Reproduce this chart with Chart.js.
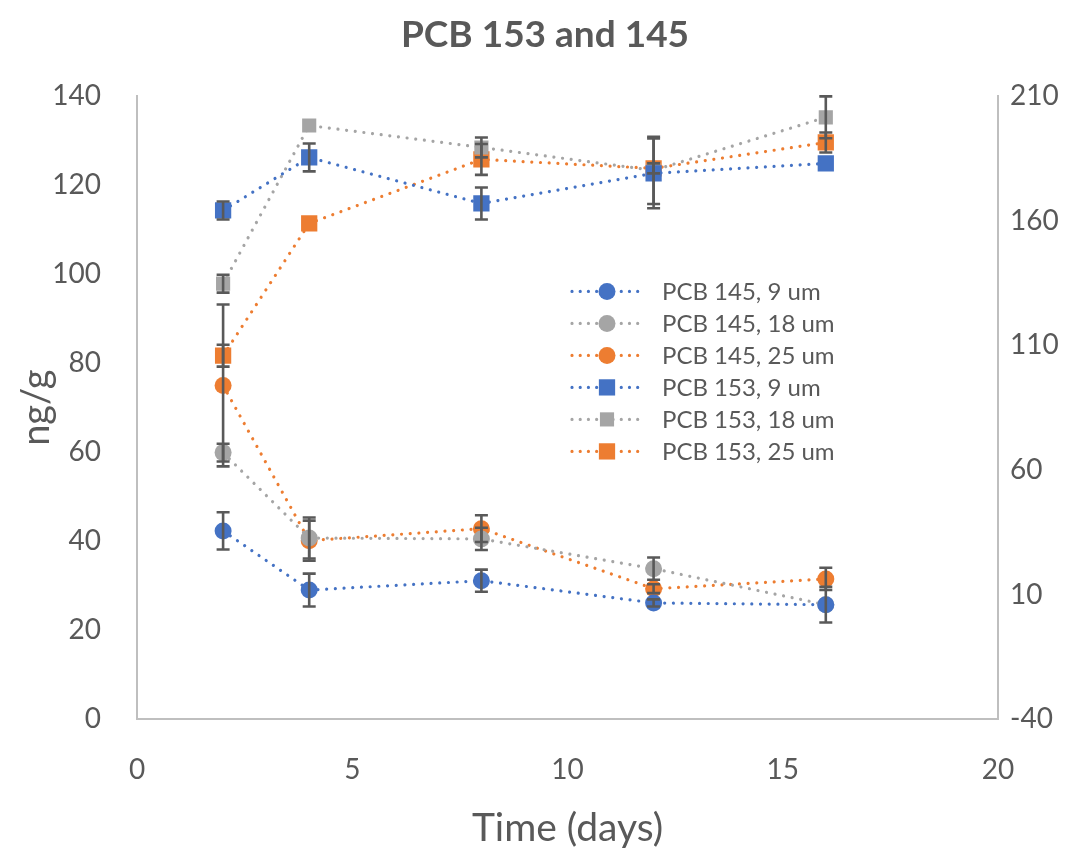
<!DOCTYPE html>
<html>
<head>
<meta charset="utf-8">
<script src="https://cdn.jsdelivr.net/npm/chart.js@4/dist/chart.umd.min.js"></script>
<style>
  html, body { margin: 0; padding: 0; background: #fff; }
  #wrap { width: 1090px; height: 848px; }
</style>
</head>
<body>
<div id="wrap"><canvas id="diagram" width="1090" height="848"></canvas></div>
<script>
// sampling days
const days = [2, 4, 8, 12, 16];

// PCB 145 (ng/g, left axis)
const pcb145_9 = [42.3, 29.0, 31.1, 26.1, 25.7];
const pcb145_18 = [59.9, 40.7, 40.5, 33.8, 25.7];
const pcb145_25 = [75.0, 40.1, 42.8, 29.3, 31.5];
const err145_9 = [4.2, 3.7, 2.5, 0.8, 0];
const err145_18 = [2.0, 4.6, 2.5, 2.5, 4.0];
const err145_25 = [18.2, 4.5, 3.0, 1.0, 2.5];

// PCB 153 (right axis)
const pcb153_9 = [164.2, 185.5, 167.0, 179.1, 183.1];
const pcb153_18 = [134.8, 198.3, 189.5, 180.3, 201.6];
const pcb153_25 = [105.9, 159.0, 184.7, 181.1, 191.5];
const err153_9 = [3.6, 5.6, 6.4, 14.0, 0];
const err153_18 = [3.6, 0, 4.0, 13.5, 8.4];
const err153_25 = [4.4, 0, 6.2, 2.0, 4.0];

const xTicks = [0, 5, 10, 15, 20];
const leftTicks = [0, 20, 40, 60, 80, 100, 120, 140];
const rightTicks = [-40, 10, 60, 110, 160, 210];

const BLUE = '#4472C4';
const GRAY = '#A5A5A5';
const ORANGE = '#ED7D31';
const TEXT = '#595959';
const AXIS = '#BFBFBF';
const FONT = 'Lato';

function makeSeries(label, values, errors, color, marker, axis) {
    return {
        label: label,
        data: days.map((d, i) => ({ x: d, y: values[i] })),
        errors: errors,
        yAxisID: axis,
        borderColor: color,
        backgroundColor: color,
        pointBackgroundColor: color,
        pointBorderColor: color,
        pointStyle: marker,
        pointRadius: marker === 'rect' ? 11.5 : 8.5,
        pointBorderWidth: 0,
        borderWidth: 3.2,
        borderDash: [0.01, 8.7],
        borderCapStyle: 'round',
        showLine: true,
        fill: false,
        tension: 0
    };
}

const datasets = [
    makeSeries('PCB 145, 9 um', pcb145_9, err145_9, BLUE, 'circle', 'y'),
    makeSeries('PCB 145, 18 um', pcb145_18, err145_18, GRAY, 'circle', 'y'),
    makeSeries('PCB 145, 25 um', pcb145_25, err145_25, ORANGE, 'circle', 'y'),
    makeSeries('PCB 153, 9 um', pcb153_9, err153_9, BLUE, 'rect', 'y2'),
    makeSeries('PCB 153, 18 um', pcb153_18, err153_18, GRAY, 'rect', 'y2'),
    makeSeries('PCB 153, 25 um', pcb153_25, err153_25, ORANGE, 'rect', 'y2')
];
// grey squares are a bit smaller
datasets[4].pointRadius = 10;

/**
* Ritar felstaplar (± värde) för varje punkt
*/
const errorBars = {
    id: 'errorBars',
    afterDatasetsDraw(chart) {
        const ctx = chart.ctx;
        const xs = chart.scales.x;
        ctx.save();
        ctx.strokeStyle = '#595959';
        ctx.lineWidth = 2.6;
        chart.data.datasets.forEach(ds => {
            const ys = chart.scales[ds.yAxisID];
            ds.data.forEach((p, i) => {
                const e = ds.errors[i];
                if (!e) return;
                const px = xs.getPixelForValue(p.x);
                const top = ys.getPixelForValue(p.y + e);
                const bot = ys.getPixelForValue(p.y - e);
                ctx.beginPath();
                ctx.moveTo(px, top);
                ctx.lineTo(px, bot);
                ctx.moveTo(px - 6.5, top);
                ctx.lineTo(px + 6.5, top);
                ctx.moveTo(px - 6.5, bot);
                ctx.lineTo(px + 6.5, bot);
                ctx.stroke();
            });
        });
        ctx.restore();
    }
};

/**
* Förklaring inne i diagrammet: prickad linje med markör och text
*/
const innerLegend = {
    id: 'innerLegend',
    afterDraw(chart) {
        const ctx = chart.ctx;
        const area = chart.chartArea;
        const x0 = area.left + 435;
        const y0 = area.top + 195;
        const rowH = 32;
        ctx.save();
        chart.data.datasets.forEach((ds, i) => {
            const y = y0 + i * rowH;
            ctx.strokeStyle = ds.borderColor;
            ctx.lineWidth = 3.2;
            ctx.lineCap = 'round';
            ctx.setLineDash([0.01, 8.2]);
            ctx.beginPath();
            ctx.moveTo(x0, y);
            ctx.lineTo(x0 + 73, y);
            ctx.stroke();
            ctx.setLineDash([]);
            ctx.fillStyle = ds.borderColor;
            if (ds.pointStyle === 'circle') {
                ctx.beginPath();
                ctx.arc(x0 + 35, y, 8.5, 0, Math.PI * 2);
                ctx.fill();
            } else {
                const s = ds.pointRadius * Math.SQRT1_2;
                ctx.fillRect(x0 + 35 - s, y - s, 2 * s, 2 * s);
            }
            ctx.fillStyle = TEXT;
            ctx.font = '24px ' + FONT;
            ctx.textBaseline = 'middle';
            ctx.fillText(ds.label, x0 + 90, y + 1);
        });
        ctx.restore();
    }
};

function init() {
    const ctx = document.getElementById('diagram').getContext('2d');
    new Chart(ctx, {
        type: 'scatter',
        data: { datasets: datasets },
        plugins: [errorBars, innerLegend],
        options: {
            responsive: false,
            animation: false,
            layout: { padding: { left: 0, right: 0, top: 0, bottom: 0 } },
            plugins: {
                legend: { display: false },
                tooltip: { enabled: false },
                title: {
                    display: true,
                    text: 'PCB 153 and 145',
                    color: TEXT,
                    font: { family: FONT, size: 37, weight: 'bold' },
                    padding: { top: 13, bottom: 39 }
                }
            },
            scales: {
                x: {
                    type: 'linear',
                    min: 0,
                    max: 20,
                    afterBuildTicks: s => { s.ticks = xTicks.map(v => ({ value: v })); },
                    afterFit: s => { s.height = 129; },
                    grid: { display: false, drawTicks: false },
                    border: { display: true, color: AXIS, width: 2 },
                    ticks: { color: TEXT, font: { family: FONT, size: 28 }, padding: 34 },
                    title: {
                        display: true,
                        text: 'Time (days)',
                        color: TEXT,
                        font: { family: FONT, size: 39, lineHeight: 1 },
                        padding: { top: 0, bottom: 0 }
                    }
                },
                y: {
                    position: 'left',
                    min: 0,
                    max: 140,
                    afterBuildTicks: s => { s.ticks = leftTicks.map(v => ({ value: v })); },
                    afterFit: s => { s.width = 137; },
                    grid: { display: false, drawTicks: false },
                    border: { display: true, color: AXIS, width: 2 },
                    ticks: { color: TEXT, font: { family: FONT, size: 28 }, padding: 36 },
                    title: {
                        display: true,
                        text: 'ng/g',
                        color: TEXT,
                        font: { family: FONT, size: 38, lineHeight: 1 },
                        padding: { top: 18, bottom: 0 }
                    }
                },
                y2: {
                    position: 'right',
                    min: -40,
                    max: 210,
                    afterBuildTicks: s => { s.ticks = rightTicks.map(v => ({ value: v })); },
                    afterFit: s => { s.width = 92; },
                    grid: { display: false, drawTicks: false },
                    border: { display: true, color: AXIS, width: 2 },
                    ticks: { color: TEXT, font: { family: FONT, size: 28 }, padding: 12 }
                }
            }
        }
    });
}

window.onload = init;
</script>
</body>
</html>
